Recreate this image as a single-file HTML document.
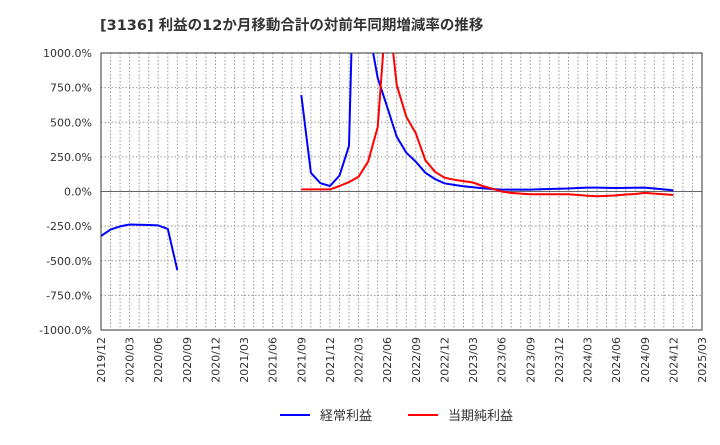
<!DOCTYPE html>
<html><head><meta charset="utf-8"><style>
body{margin:0;background:#fff}
svg{font-family:"DejaVu Sans","Noto Sans CJK JP",sans-serif}
</style></head><body>
<svg id="c" width="720" height="440">
<text x="100" y="30" font-size="14.5" font-weight="bold" fill="#333">[3136]  利益の12か月移動合計の対前年同期増減率の推移</text>
<defs><clipPath id="pc"><rect x="101" y="53" width="601" height="277"/></clipPath></defs>
<g id="grid"></g><g id="series" clip-path="url(#pc)"></g><g id="axes"></g>
<g>
<line x1="280" y1="415" x2="310" y2="415" stroke="#0000ff" stroke-width="2"/>
<text x="320" y="420" font-size="13" fill="#333">経常利益</text>
<line x1="408" y1="415" x2="438" y2="415" stroke="#ff0000" stroke-width="2"/>
<text x="448" y="420" font-size="13" fill="#333">当期純利益</text>
</g>
</svg>
<script>
const yTicks=[1000,750,500,250,0,-250,-500,-750,-1000];
const xLabels=["2019/12","2020/03","2020/06","2020/09","2020/12","2021/03","2021/06","2021/09","2021/12","2022/03","2022/06","2022/09","2022/12","2023/03","2023/06","2023/09","2023/12","2024/03","2024/06","2024/09","2024/12","2025/03"];
const N=null;
const keijo=[-321,-275,-252,-238,-240,-242,-245,-270,-567,N,N,N,N,N,N,N,N,N,N,N,N,697,135,60,40,115,330,3000,1200,820,610,396,280,215,136,90,59,48,38,30,24,18,14,14,14,14,16,18,20,22,25,28,28,26,25,26,27,28,22,15,8];
const junri=[N,N,N,N,N,N,N,N,N,N,N,N,N,N,N,N,N,N,N,N,N,15,15,15,15,40,68,107,215,465,1400,770,540,420,227,143,100,85,75,65,40,20,0,-10,-15,-20,-20,-20,-20,-20,-25,-30,-35,-32,-28,-22,-18,-10,-15,-20,-25];
const X0=101,X1=702,Y0=53,Y1=330,NM=63;
const xs=i=>X0+(X1-X0)*i/NM;
const ys=v=>Y0+(1000-v)*(Y1-Y0)/2000;
const ns="http://www.w3.org/2000/svg";
function mk(t,a,p){const e=document.createElementNS(ns,t);for(const k in a)e.setAttribute(k,a[k]);p.appendChild(e);return e;}
const g=document.getElementById('grid'),ax=document.getElementById('axes'),s=document.getElementById('series');
for(let m=1;m<NM;m++){const l=mk('line',{x1:xs(m),x2:xs(m),y1:Y0,y2:Y1,stroke:'#999','stroke-dasharray':'1.5,2','stroke-width':1},g);

}
yTicks.forEach(v=>{const y=ys(v);
const l=mk('line',{x1:X0,x2:X1,y1:y,y2:y,stroke:v===0?'#666':'#999','stroke-dasharray':v===0?'none':'1.5,2','stroke-width':1},g);


const t=mk('text',{x:92,y:y+4,'text-anchor':'end','font-size':11,fill:'#333'},ax);t.textContent=v.toFixed(1)+'%';

});
xLabels.forEach((lb,i)=>{const x=xs(i*3);
const t=mk('text',{x:0,y:0,transform:`translate(${x+4},337) rotate(-90)`,'text-anchor':'end','font-size':11,fill:'#333'},ax);t.textContent=lb;

});
const fr=mk('rect',{x:X0,y:Y0,width:X1-X0,height:Y1-Y0,fill:'none',stroke:'#333','stroke-width':1},ax);


function draw(arr,col,name){let d='',pen=false;arr.forEach((v,i)=>{if(v===null){pen=false;return;}d+=(pen?'L':'M')+xs(i).toFixed(1)+','+ys(v).toFixed(1);pen=true;});
const p=mk('path',{d:d,fill:'none',stroke:col,'stroke-width':2,'stroke-linejoin':'round'},s);

}
draw(keijo,'#0000ff','keijo-line');
draw(junri,'#ff0000','junri-line');
</script>
</body></html>
